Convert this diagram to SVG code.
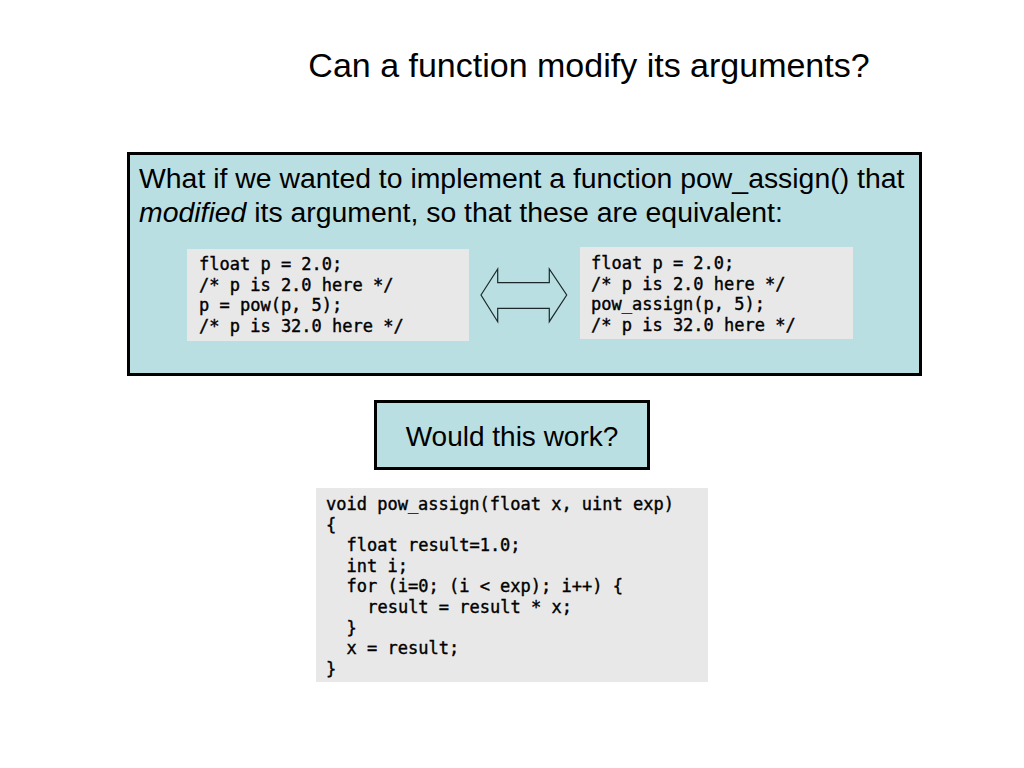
<svg xmlns="http://www.w3.org/2000/svg" width="1024" height="768" viewBox="0 0 1024 768">
  <style>
    .sans { font-family: "Liberation Sans", Arial, sans-serif; fill: #000; }
    .mono { font-family: "DejaVu Sans Mono", monospace; font-size: 17px; fill: #000; stroke: #000; stroke-width: 0.4; }
    .panel { fill: #badfe2; stroke: #000; stroke-width: 3; }
    .code { fill: #e8e8e8; stroke: none; }
  </style>
  <rect width="1024" height="768" fill="#ffffff"/>

  <g id="title">
    <text class="sans" x="589" y="77" font-size="34" text-anchor="middle">Can a function modify its arguments?</text>
  </g>

  <g id="question-panel">
    <rect class="panel" x="128.5" y="153.5" width="792" height="221"/>
    <text class="sans" x="139" y="188" font-size="28.4">What if we wanted to implement a function pow_assign() that</text>
    <text class="sans" x="139" y="221.5" font-size="28.4"><tspan font-style="italic">modified</tspan> its argument, so that these are equivalent:</text>
  </g>

  <g id="code-left">
    <rect class="code" x="187" y="249" width="282" height="92"/>
    <text class="mono" x="199" y="270">float p = 2.0;</text>
    <text class="mono" x="199" y="290.5">/* p is 2.0 here */</text>
    <text class="mono" x="199" y="311">p = pow(p, 5);</text>
    <text class="mono" x="199" y="331.5">/* p is 32.0 here */</text>
  </g>

  <g id="code-right">
    <rect class="code" x="580" y="247" width="273" height="92"/>
    <text class="mono" x="591" y="269">float p = 2.0;</text>
    <text class="mono" x="591" y="289.5">/* p is 2.0 here */</text>
    <text class="mono" x="591" y="310">pow_assign(p, 5);</text>
    <text class="mono" x="591" y="330.5">/* p is 32.0 here */</text>
  </g>

  <g id="connectors">
    <polygon points="481,295 497.7,269 497.7,282.7 549.3,282.7 549.3,269 566.7,295 549.3,321.7 549.3,308.3 497.7,308.3 497.7,321.7" fill="#badfe2" stroke="#1a2a2a" stroke-width="1.2" stroke-linejoin="miter"/>
  </g>

  <g id="would-box">
    <rect class="panel" x="375.5" y="401.5" width="273" height="67"/>
    <text class="sans" x="512" y="446" font-size="28" text-anchor="middle">Would this work?</text>
  </g>

  <g id="code-bottom">
    <rect class="code" x="316" y="488" width="392" height="194"/>
    <text class="mono" x="326" y="510">void pow_assign(float x, uint exp)</text>
    <text class="mono" x="326" y="530.6">{</text>
    <text class="mono" x="346.6" y="551.2">float result=1.0;</text>
    <text class="mono" x="346.6" y="571.8">int i;</text>
    <text class="mono" x="346.6" y="592.4">for (i=0; (i &lt; exp); i++) {</text>
    <text class="mono" x="367.2" y="613">result = result * x;</text>
    <text class="mono" x="346.6" y="633.6">}</text>
    <text class="mono" x="346.6" y="654.2">x = result;</text>
    <text class="mono" x="326" y="674.8">}</text>
  </g>
</svg>
